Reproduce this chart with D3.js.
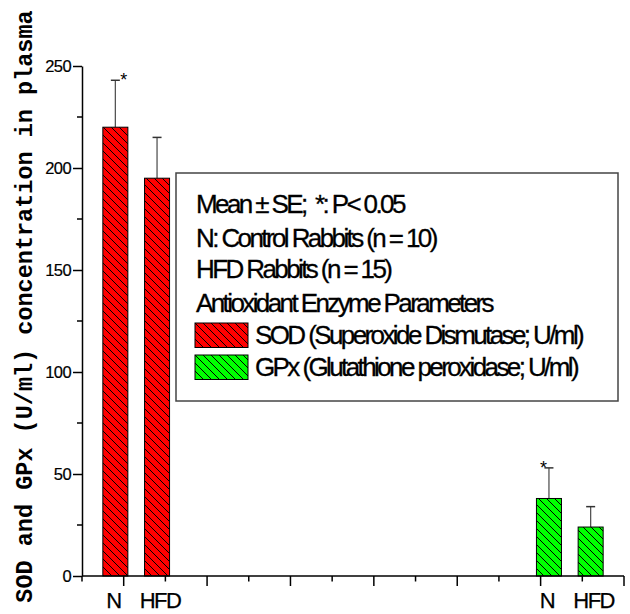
<!DOCTYPE html>
<html>
<head>
<meta charset="utf-8">
<script src="https://cdn.jsdelivr.net/npm/d3@7"></script>
<style>
  html, body { margin: 0; padding: 0; background: #fff; }
  svg { display: block; }
  text { white-space: pre; }
</style>
</head>
<body>
<svg id="chart" width="630" height="614"></svg>
<script>
// ---- data ----
const categories = ["N", "HFD"];
const sodMeans = [220, 195];
const sodSE = [23, 20];
const gpxMeans = [38, 24];
const gpxSE = [15, 10];
const sodSignificant = [true, false];
const gpxSignificant = [true, false];
const sodSlots = [1, 2];
const gpxSlots = [11, 12];
const yTickValues = [0, 50, 100, 150, 200, 250];
const legendLines = [
  "Mean \u00B1 SE;  *: P< 0.05",
  "N: Control Rabbits (n = 10)",
  "HFD Rabbits (n = 15)",
  "Antioxidant Enzyme Parameters"
];
const seriesNames = ["SOD (Superoxide Dismutase; U/ml)", "GPx (Glutathione peroxidase; U/ml)"];
const seriesColors = ["#ff0000", "#00ff00"];
const yTitle = "SOD and GPx (U/ml) concentration in plasma";

// ---- layout ----
const svg = d3.select("#chart");
const x = d3.scaleLinear().domain([0, 13]).range([82, 624]);
const y = d3.scaleLinear().domain([0, 250]).range([576, 66]);
const barW = x(0.6) - x(0);
const sansFont = "'Liberation Sans', Arial, sans-serif";

// hatch patterns
const defs = svg.append("defs");
seriesColors.forEach((c, i) => {
  const p = defs.append("pattern")
    .attr("id", "hatch" + i)
    .attr("patternUnits", "userSpaceOnUse")
    .attr("width", 8).attr("height", 8);
  p.append("rect").attr("width", 8).attr("height", 8).attr("fill", c);
  p.append("path")
    .attr("d", "M0,0 L8,8 M-2,6 L2,10 M6,-2 L10,2")
    .attr("stroke", "#000").attr("stroke-width", 1);
});

// bars
const series = [
  { means: sodMeans, se: sodSE, slots: sodSlots, off: -0.2, sig: sodSignificant, pat: "url(#hatch0)" },
  { means: gpxMeans, se: gpxSE, slots: gpxSlots, off: 0.2, sig: gpxSignificant, pat: "url(#hatch1)" }
];

series.forEach(s => {
  const g = svg.append("g");
  s.means.forEach((m, i) => {
    const cx = x(s.slots[i] + s.off);
    g.append("line")
      .attr("x1", cx).attr("x2", cx)
      .attr("y1", y(m)).attr("y2", y(m + s.se[i]))
      .attr("stroke", "#555").attr("stroke-width", 1.3);
    g.append("line")
      .attr("x1", cx - 4.5).attr("x2", cx + 4.5)
      .attr("y1", y(m + s.se[i])).attr("y2", y(m + s.se[i]))
      .attr("stroke", "#333").attr("stroke-width", 1.5);
    g.append("rect")
      .attr("x", cx - barW / 2).attr("y", y(m))
      .attr("width", barW).attr("height", y(0) - y(m))
      .attr("fill", s.pat)
      .attr("stroke", "#000").attr("stroke-width", 1);
    if (s.sig[i]) {
      g.append("text")
        .attr("x", x(s.slots[i]) + (s.off < 0 ? 0 : 3))
        .attr("y", y(m + s.se[i]) + 6)
        .attr("text-anchor", "middle")
        .attr("font-family", sansFont)
        .attr("font-size", 18)
        .text("*");
    }
    svg.append("text")
      .attr("x", cx + (i === 0 ? -2 : 3))
      .attr("y", 608)
      .attr("text-anchor", "middle")
      .attr("font-family", sansFont)
      .attr("font-size", 22)
      .attr("letter-spacing", -1.5)
      .attr("stroke", "#000").attr("stroke-width", 0.25)
      .text(categories[i]);
  });
});

// x axis
const xAxis = svg.append("g");
xAxis.append("line")
  .attr("x1", x(0)).attr("x2", x(13))
  .attr("y1", y(0)).attr("y2", y(0))
  .attr("stroke", "#000").attr("stroke-width", 1.5);
d3.range(0, 14).forEach(t => {
  xAxis.append("line")
    .attr("x1", x(t)).attr("x2", x(t))
    .attr("y1", y(0)).attr("y2", y(0) + (t % 2 === 1 ? 10 : 5.5))
    .attr("stroke", "#000").attr("stroke-width", 1.5);
});

// y axis
const yAxisG = svg.append("g").attr("transform", `translate(${x(0)},0)`);
yAxisG.call(d3.axisLeft(y).tickValues(yTickValues).tickSize(9).tickSizeOuter(0).tickPadding(2))
  .call(g => g.select(".domain").attr("stroke-width", 1.5))
  .call(g => g.selectAll(".tick line").attr("stroke-width", 1.5))
  .call(g => g.selectAll(".tick text")
    .attr("font-family", sansFont)
    .attr("font-size", 16.5)
    .attr("letter-spacing", -0.6)
    .attr("stroke", "#000").attr("stroke-width", 0.2)
    .attr("fill", "#000"));
yAxisG.selectAll(".minor")
  .data(d3.range(25, 250, 50))
  .enter().append("line")
  .attr("x1", -5).attr("x2", 0)
  .attr("y1", d => y(d)).attr("y2", d => y(d))
  .attr("stroke", "#000").attr("stroke-width", 1.5);

// y title
svg.append("text")
  .attr("transform", "translate(32,306.5) rotate(-90)")
  .attr("text-anchor", "middle")
  .attr("font-family", "'Liberation Mono', 'Courier New', monospace")
  .attr("font-weight", "bold")
  .attr("font-size", 23.5)
  .text(yTitle);

// legend
const lg = svg.append("g");
lg.append("rect")
  .attr("x", 176).attr("y", 173).attr("width", 442).attr("height", 228)
  .attr("fill", "#fff").attr("stroke", "#444").attr("stroke-width", 1.5);
const lineY = [213, 247, 278, 312];
legendLines.forEach((t, i) => {
  lg.append("text")
    .attr("x", 196).attr("y", lineY[i])
    .attr("font-family", sansFont)
    .attr("font-size", 26)
    .attr("letter-spacing", -2.6)
    .attr("stroke", "#000").attr("stroke-width", 0.3)
    .text(t);
});
const swY = [323, 355];
const txY = [344, 376];
seriesNames.forEach((n, i) => {
  lg.append("rect")
    .attr("x", 195).attr("y", swY[i]).attr("width", 53).attr("height", 24.5)
    .attr("fill", "url(#hatch" + i + ")")
    .attr("stroke", "#000").attr("stroke-width", 1);
  lg.append("text")
    .attr("x", 255).attr("y", txY[i])
    .attr("font-family", sansFont)
    .attr("font-size", 26)
    .attr("letter-spacing", -2.6)
    .attr("stroke", "#000").attr("stroke-width", 0.3)
    .text(n);
});
</script>
</body>
</html>
